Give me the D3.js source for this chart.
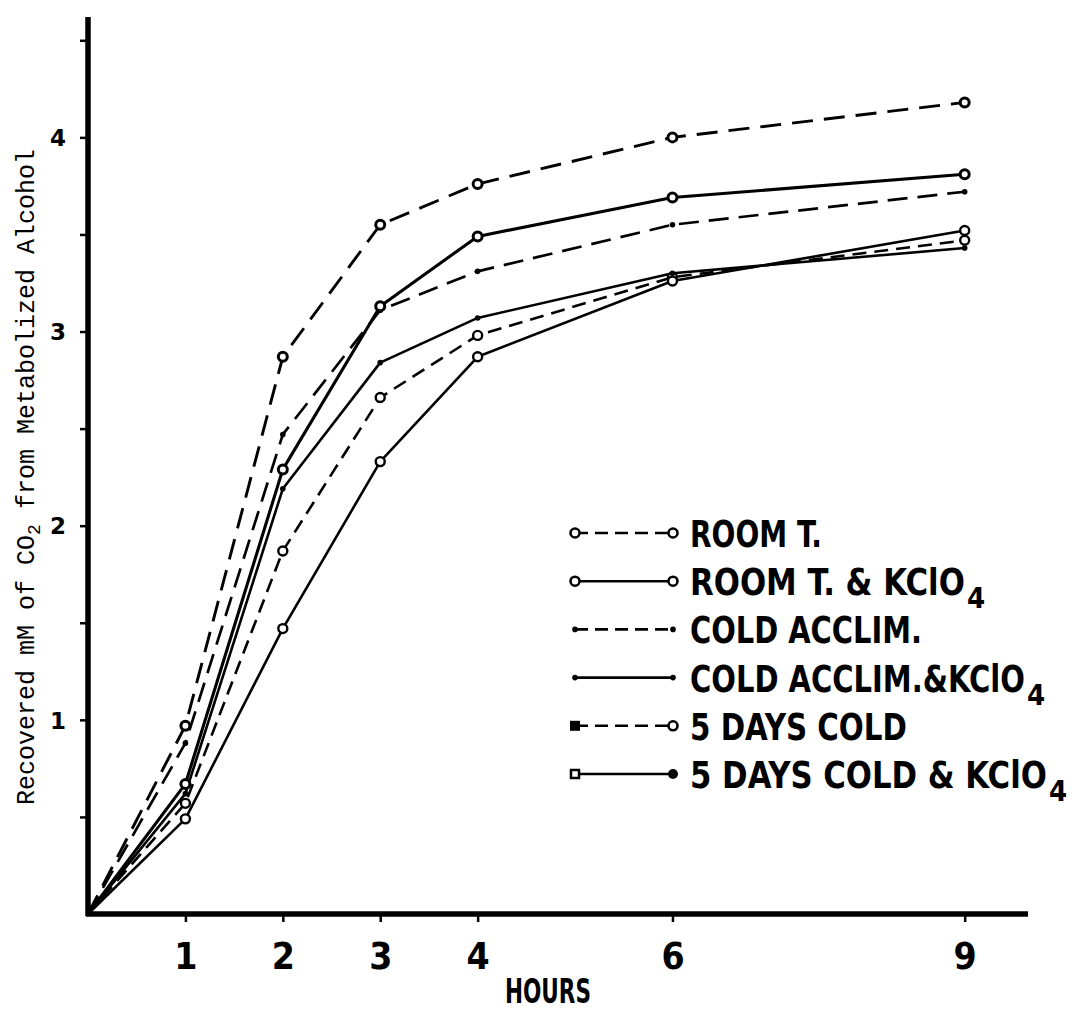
<!DOCTYPE html>
<html>
<head>
<meta charset="utf-8">
<script src="https://cdn.jsdelivr.net/npm/d3@7"></script>
<style>
body { margin: 0; background: #fff; }
svg { display: block; }
.cond { font-family: "Liberation Sans Narrow", "DejaVu Sans Condensed", "Roboto", sans-serif; font-weight: bold; }
</style>
</head>
<body>
<div id="visualization"><svg width="1086" height="1013"></svg></div>
<script>
// values
var hours = [0, 1, 2, 3, 4, 6, 9];
var roomT = [0, 0.57, 1.87, 2.66, 2.98, 3.28, 3.47];
var roomTK = [0, 0.49, 1.47, 2.33, 2.87, 3.26, 3.52];
var coldAcclim = [0, 0.88, 2.47, 3.11, 3.31, 3.55, 3.72];
var coldAcclimK = [0, 0.62, 2.19, 2.84, 3.07, 3.30, 3.43];
var days5 = [0, 0.97, 2.87, 3.55, 3.76, 4.00, 4.18];
var days5K = [0, 0.67, 2.29, 3.13, 3.49, 3.69, 3.81];

var seriesNames = ["ROOM T.", "ROOM T. & KClO", "COLD ACCLIM.", "COLD ACCLIM.&KClO", "5 DAYS COLD", "5 DAYS COLD & KClO"];
var subscripts = ["", "4", "", "4", "", "4"];
var xTicks = [1, 2, 3, 4, 6, 9];
var yTicks = [0.5, 1, 1.5, 2, 2.5, 3, 3.5, 4, 4.5];
var yLabels = [1, 2, 3, 4];

var allSeries = [roomT, roomTK, coldAcclim, coldAcclimK, days5, days5K];

// drawing styles, one per series
var dashes = ["14,8", null, "20,10", null, "21,11", null];
var widths = [2.6, 2.6, 2.7, 2.6, 2.9, 3.1];
var markers = ["circle", "circle", "dot", "dot", "circle", "circle"];
var legendLeft = ["circle", "circle", "dot", "dot", "fsquare", "osquare"];
var legendRight = ["circle", "circle", "dot", "dot", "circle", "fcircle"];
var legendWidths = [132, 275, 232, 335, 217, 357];

var svg = d3.select("#visualization").select("svg");

var x = d3.scaleLinear().domain([0, 9.65]).range([88, 1028]);
var y = d3.scaleLinear().domain([0, 4.62]).range([914, 17]);

function drawAxes() {
    var gx = svg.append("g").attr("transform", "translate(0,914)")
        .call(d3.axisBottom(x).tickValues(xTicks).tickSize(8).tickSizeOuter(0).tickFormat(d3.format("d")));
    gx.select(".domain").attr("stroke", "#000").attr("stroke-width", 5.5).attr("d", "M86,0H1028");
    gx.selectAll(".tick line").attr("stroke", "#000").attr("stroke-width", 2.5);
    gx.selectAll(".tick text").attr("class", "cond").attr("dy", null).attr("y", 55)
        .style("font-size", "37px").attr("fill", "#000");

    var gy = svg.append("g").attr("transform", "translate(88,0)")
        .call(d3.axisLeft(y).tickValues(yTicks).tickSize(8).tickSizeOuter(0).tickFormat(function (d) {
            return yLabels.indexOf(d) > -1 ? d : "";
        }));
    gy.select(".domain").attr("stroke", "#000").attr("stroke-width", 5.5).attr("d", "M0,17V916");
    gy.selectAll(".tick line").attr("stroke", "#000").attr("stroke-width", 2.5);
    gy.selectAll(".tick text").attr("x", -22).attr("dy", "0.36em")
        .style("font-family", "'DejaVu Sans', sans-serif").style("font-weight", "bold")
        .style("font-size", "23px").attr("fill", "#000");

    svg.append("text").attr("class", "cond").text("HOURS")
        .attr("x", 505).attr("y", 1003).attr("textLength", 86).attr("lengthAdjust", "spacingAndGlyphs")
        .style("font-size", "34px");

    // rotated typewriter title
    var t = svg.append("text")
        .attr("transform", "translate(34,477) rotate(-90)")
        .attr("text-anchor", "middle")
        .style("font-family", "'Liberation Mono', 'DejaVu Sans Mono', monospace")
        .style("font-size", "25px").attr("fill", "#000");
    t.append("tspan").text("Recovered mM of CO");
    t.append("tspan").text("2").attr("dy", 6).style("font-size", "18px");
    t.append("tspan").text(" from Metabolized Alcohol").attr("dy", -6);
}

function drawMarker(g, type, cx, cy, sw) {
    if (type === "circle") {
        g.append("circle").attr("cx", cx).attr("cy", cy).attr("r", 4.5)
            .attr("fill", "#fff").attr("stroke", "#000").attr("stroke-width", sw);
    } else if (type === "fcircle") {
        g.append("circle").attr("cx", cx).attr("cy", cy).attr("r", 5).attr("fill", "#000");
    } else if (type === "dot") {
        g.append("circle").attr("cx", cx).attr("cy", cy).attr("r", 2.8).attr("fill", "#000");
    } else if (type === "fsquare") {
        g.append("rect").attr("x", cx - 5).attr("y", cy - 5).attr("width", 10).attr("height", 10).attr("fill", "#000");
    } else if (type === "osquare") {
        g.append("rect").attr("x", cx - 4).attr("y", cy - 4).attr("width", 8).attr("height", 8)
            .attr("fill", "#fff").attr("stroke", "#000").attr("stroke-width", 2.5);
    }
}

function drawSeries() {
    var line = d3.line()
        .x(function (d) { return x(d[0]); })
        .y(function (d) { return y(d[1]); });

    allSeries.forEach(function (vals, i) {
        var pts = hours.map(function (h, j) { return [h, vals[j]]; });
        svg.append("path").datum(pts)
            .attr("d", line)
            .attr("fill", "none")
            .attr("stroke", "#000")
            .attr("stroke-width", widths[i])
            .attr("stroke-linejoin", "round")
            .attr("stroke-dasharray", dashes[i]);
    });

    // markers on top of all lines
    allSeries.forEach(function (vals, i) {
        var g = svg.append("g");
        hours.forEach(function (h, j) {
            if (j === 0) return;
            drawMarker(g, markers[i], x(h), y(vals[j]), i >= 4 ? 3 : 2.4);
        });
    });
}

function drawLegend() {
    var lg = svg.append("g");
    var rowY = d3.scaleLinear().domain([0, 5]).range([533, 774]);
    seriesNames.forEach(function (name, i) {
        var cy = rowY(i);
        lg.append("line").attr("x1", 575).attr("x2", 673).attr("y1", cy).attr("y2", cy)
            .attr("stroke", "#000").attr("stroke-width", 2.6)
            .attr("stroke-dasharray", dashes[i] ? "13,7" : null);
        drawMarker(lg, legendLeft[i], 575, cy, 2.6);
        drawMarker(lg, legendRight[i], 673, cy, 2.6);

        // squeeze the label horizontally to the printed width
        var g = lg.append("g");
        var t = g.append("text").attr("class", "cond").text(name).style("font-size", "37px");
        var natural = t.node().getComputedTextLength();
        g.attr("transform", "translate(690," + (cy + 14) + ") scale(" + (legendWidths[i] / natural) + ",1)");

        if (subscripts[i]) {
            lg.append("text").attr("class", "cond").text(subscripts[i])
                .attr("x", 690 + legendWidths[i] + 2).attr("y", cy + 27)
                .style("font-size", "29px");
        }
    });
}

drawSeries();
drawAxes();
drawLegend();
</script>
</body>
</html>
